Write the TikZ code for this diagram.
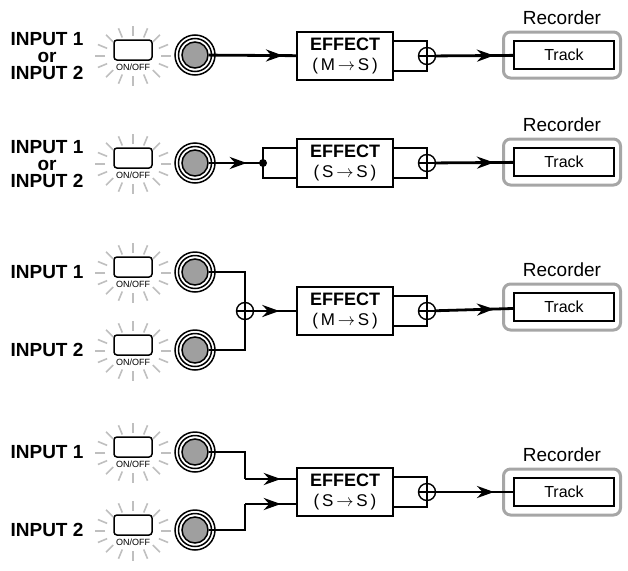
\documentclass[tikz,border=0pt]{standalone}
\usepackage{fontspec}
\setmainfont{Liberation Sans}
\usetikzlibrary{arrows.meta,decorations.markings,positioning}
\tikzset{
  lbl/.style={font=\fontsize{19}{17}\selectfont\bfseries, align=center},
  rec/.style={font=\fontsize{19}{19}\selectfont},
  effect/.style={rectangle, draw, line width=1.8pt, minimum width=96, minimum height=48, align=center, inner sep=1pt, font=\fontsize{17}{20}\selectfont},
  track/.style={rectangle, draw, line width=1.4pt, minimum width=100, minimum height=28, font=\fontsize{16}{16}\selectfont},
  recorder/.style={rectangle, rounded corners=7pt, draw=gray!70, line width=3pt, minimum width=117, minimum height=46},
  plus/.style={circle, draw, line width=1.4pt, minimum size=17, inner sep=0pt,
    path picture={\draw[line width=1.4pt] (path picture bounding box.north) -- (path picture bounding box.south)
      (path picture bounding box.west) -- (path picture bounding box.east);}},
  wire/.style={line width=2.8pt},
  mark at/.style={postaction={decorate}, decoration={markings, mark=at position #1 with {\arrow{Stealth[length=17pt,width=12pt]}}}},
  pics/switch/.style={code={
    \foreach \a in {0,22.5,...,337.5}
      \draw[gray!50, line width=1.6pt] ({28*cos(\a)},{-20*sin(\a)+6}) -- ({38*cos(\a)},{-30*sin(\a)+6});
    \draw[line width=1.5pt, rounded corners=3pt, fill=white] (-19,-10) rectangle (19,10);
    \node[font=\fontsize{9}{9}\selectfont] at (0,17) {ON/OFF};
  }},
  pics/jack/.style={code={
    \draw[line width=1.5pt] (0,0) circle (20);
    \draw[line width=1.5pt] (0,0) circle (16.5);
    \node[circle, draw, line width=1.5pt, fill=gray!75, minimum size=26, inner sep=0pt] (-c) at (0,0) {};
  }}
}
\newcommand{\fx}[1]{\textbf{\fontsize{18}{20}\selectfont EFFECT}\\(\,#1\,)}
\begin{document}
\begin{tikzpicture}[x=1pt,y=-1pt]
\useasboundingbox (0,0) rectangle (628,570);

% row 1
\node[lbl] (in1) at (47,56) {INPUT 1\\or\\INPUT 2};
\pic at (133,50) {switch};
\pic (ja) at (195,55) {jack};
\node[effect] (e1) at (345,56) {\fx{M\,$\rightarrow$\,S}};
\node[plus] (p1) at (427,56) {};
\node[recorder] (r1) at (562,55) {};
\node[track] (t1) at (564,55) {Track};
\node[rec] at (r1.north) [yshift=13] {Recorder};
\draw[wire, mark at=0.85] (ja-c) -- (e1);
\draw[wire] ([yshift=15]e1.east) -| (p1) |- ([yshift=-15]e1.east);
\draw[wire, mark at=0.75] (p1) -- (t1);

% row 2
\node[lbl] (in2) at (47,164) {INPUT 1\\or\\INPUT 2};
\pic at (133,158) {switch};
\pic (jb) at (195,163) {jack};
\node[effect] (e2) at (345,163) {\fx{S\,$\rightarrow$\,S}};
\node[plus] (p2) at (427,163) {};
\node[recorder] (r2) at (562,162) {};
\node[track] (t2) at (564,162) {Track};
\node[rec] at (r2.north) [yshift=13] {Recorder};
\coordinate (d2) at (263,163);
\fill (d2) circle (4);
\draw[wire, mark at=0.7] (jb-c) -- (d2);
\draw[wire] ([yshift=15]e2.west) -| (d2) |- ([yshift=-15]e2.west);
\draw[wire] ([yshift=15]e2.east) -| (p2) |- ([yshift=-15]e2.east);
\draw[wire, mark at=0.75] (p2) -- (t2);

% row 3
\node[lbl] (in3a) at (47,272) {INPUT 1};
\node[lbl] (in3b) at (47,350) {INPUT 2};
\pic at (133,267) {switch};
\pic at (133,345) {switch};
\pic (jc) at (195,272) {jack};
\pic (jd) at (195,350) {jack};
\node[plus] (q3) at (245,311) {};
\node[effect] (e3) at (345,311) {\fx{M\,$\rightarrow$\,S}};
\node[plus] (p3) at (427,311) {};
\node[recorder] (r3) at (562,307) {};
\node[track] (t3) at (564,307) {Track};
\node[rec] at (r3.north) [yshift=13] {Recorder};
\draw[wire] (jc-c) -| (q3);
\draw[wire] (jd-c) -| (q3);
\draw[wire, mark at=0.6] (q3) -- (e3);
\draw[wire] ([yshift=15]e3.east) -| (p3) |- ([yshift=-15]e3.east);
\draw[wire, mark at=0.75] (p3) -- (t3);

% row 4
\node[lbl] (in4a) at (47,452) {INPUT 1};
\node[lbl] (in4b) at (47,530) {INPUT 2};
\pic at (133,447) {switch};
\pic at (133,525) {switch};
\pic (je) at (195,452) {jack};
\pic (jf) at (195,530) {jack};
\node[effect] (e4) at (345,492) {\fx{S\,$\rightarrow$\,S}};
\node[plus] (p4) at (427,492) {};
\node[recorder] (r4) at (562,492) {};
\node[track] (t4) at (564,492) {Track};
\node[rec] at (r4.north) [yshift=13] {Recorder};
\coordinate (ka) at (245,479);
\coordinate (kb) at (245,504);
\draw[wire] (je-c) -| (ka);
\draw[wire] (jf-c) -| (kb);
\draw[wire, mark at=0.7] (ka) -- (ka -| e4.west);
\draw[wire, mark at=0.7] (kb) -- (kb -| e4.west);
\draw[wire] ([yshift=15]e4.east) -| (p4) |- ([yshift=-15]e4.east);
\draw[wire, mark at=0.75] (p4) -- (t4);
\end{tikzpicture}
\end{document}
